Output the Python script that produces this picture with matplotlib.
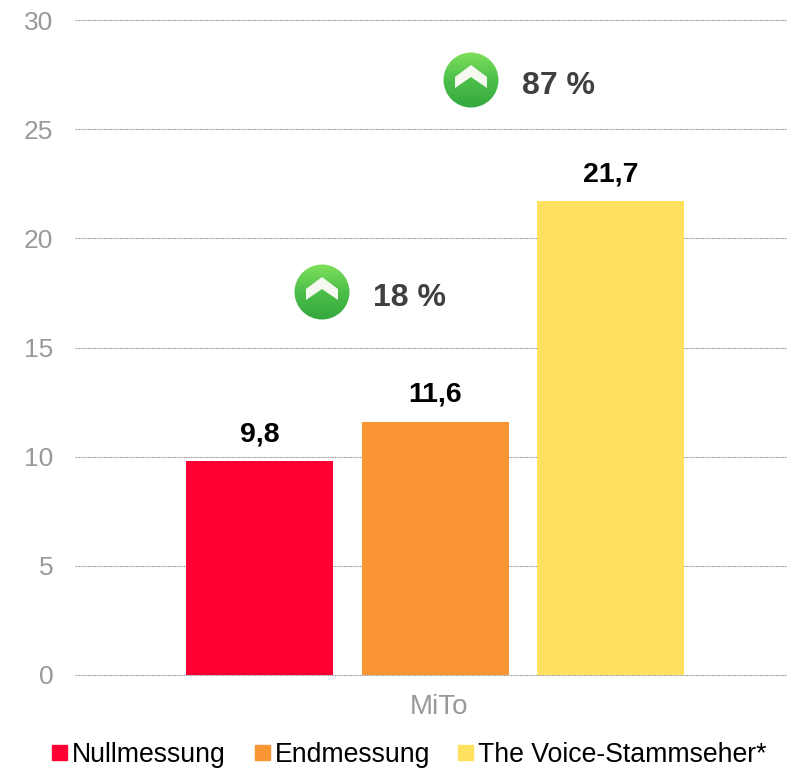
import numpy as np
import matplotlib
matplotlib.use('Agg')
import matplotlib.pyplot as plt
from matplotlib.colors import LinearSegmentedColormap
from matplotlib.patches import Circle, Rectangle, Polygon

plt.rcParams['font.family'] = ['Liberation Sans', 'DejaVu Sans']

W, H = 787, 768

# data
series = ['Nullmessung', 'Endmessung', 'The Voice-Stammseher*']
values = [9.8, 11.6, 21.7]
labels = ['9,8', '11,6', '21,7']
colors = ['#ff0033', '#f99533', '#ffe15f']
category = 'MiTo'
yticks = [0, 5, 10, 15, 20, 25, 30]
changes = ['18 %', '87 %']

fig = plt.figure(figsize=(W / 100, H / 100), dpi=100)
ax = fig.add_axes([75 / W, 1 - 675 / H, (787 - 75) / W, (675 - 20) / H])

bar_x = [0, 1, 2]
ax.bar(bar_x, values, width=147 / 175.5, color=colors, zorder=3)
ax.set_xlim((75 - 259.5) / 175.5, (787 - 259.5) / 175.5)
ax.set_ylim(0, 30)

ax.set_yticks(yticks)
ax.set_xticks([1.02])
ax.set_xticklabels([category])
ax.tick_params(axis='both', length=0, labelsize=19, labelcolor='#999999')
ax.tick_params(axis='y', pad=15.5)
ax.tick_params(axis='x', labelsize=20, pad=13.5)
ax.grid(axis='y', color='#969696', linewidth=0.8, linestyle=(0, (1, 0.6)), zorder=0, clip_on=False)
ax.set_axisbelow(True)
for s in ax.spines.values():
    s.set_visible(False)

for x, v, t in zip(bar_x, values, labels):
    ax.annotate(t, (x, v), xytext=(0, 10), textcoords='offset points', ha='center',
                va='bottom', fontsize=20.5, fontweight='bold', color='black')

# green arrow badges, pixel placed overlay
over = fig.add_axes([0, 0, 1, 1], facecolor='none')
over.set_xlim(0, W)
over.set_ylim(H, 0)
over.axis('off')
cmap = LinearSegmentedColormap.from_list('g', ['#7fe05c', '#4cbf4a', '#35a83f'])
grad = np.linspace(0, 1, 64).reshape(-1, 1)
for (cx, cy), txt in zip([(322, 292), (471, 80)], changes):
    im = over.imshow(grad, extent=(cx - 28, cx + 28, cy + 28, cy - 28), cmap=cmap, aspect='auto', zorder=2)
    im.set_clip_path(Circle((cx, cy), 27.5, transform=over.transData))
    arrow = [(cx - 16, cy - 3), (cx, cy - 15), (cx + 16, cy - 3), (cx + 16, cy + 8), (cx, cy - 3), (cx - 16, cy + 8)]
    over.add_patch(Polygon(arrow, closed=True, facecolor='#f4f8ee', edgecolor='none', zorder=3))
    over.text(cx + 51, cy + 6, txt, fontsize=23, fontweight='bold', color='#404040', ha='left', va='center')
over.set_xlim(0, W)
over.set_ylim(H, 0)

# legend
for x, name, c in zip([52, 255, 458], series, colors):
    over.add_patch(Rectangle((x, 745), 15, 15, color=c))
    over.text(x + 20, 755, name, fontsize=19.2, color='black', ha='left', va='center')

fig.savefig('out.png', dpi=100)
